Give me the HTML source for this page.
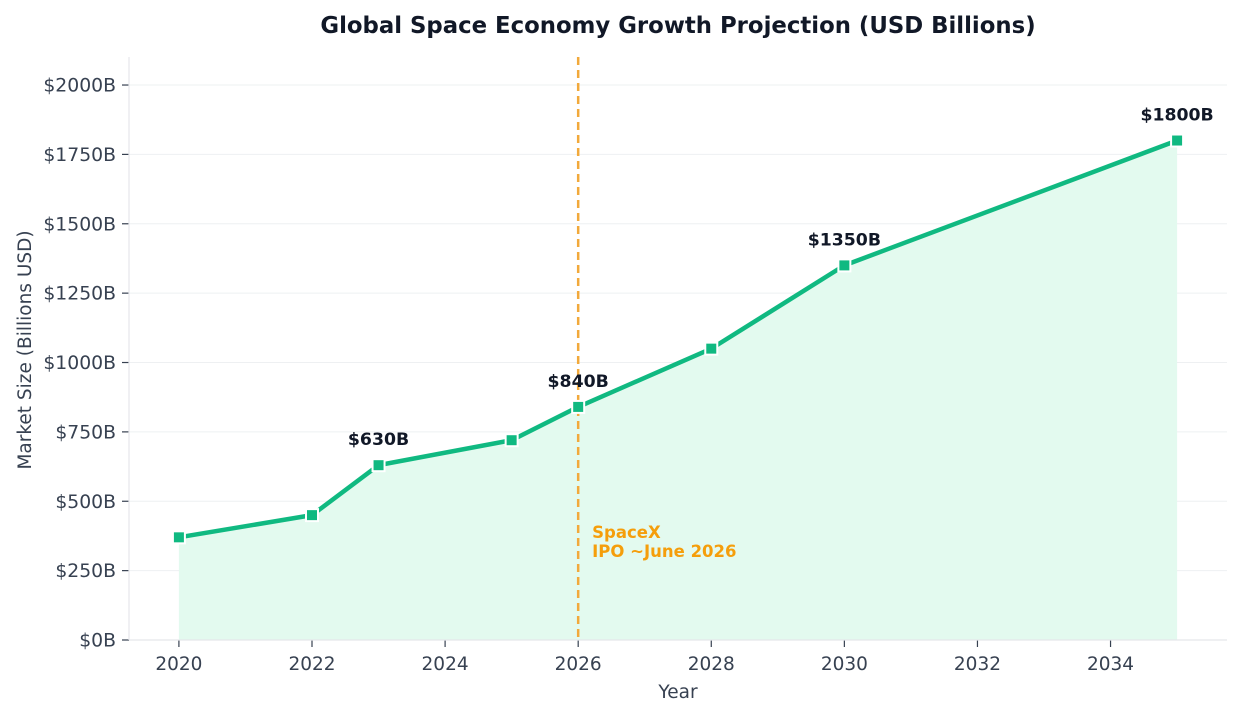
<!DOCTYPE html>
<html><head><meta charset="utf-8"><style>
body{margin:0;background:#fff;}
svg{display:block;font-family:"DejaVu Sans","Liberation Sans",sans-serif;}
</style></head><body>
<svg id="chart" width="1241" height="716">
<text x="678" y="33" text-anchor="middle" font-size="22.8" font-weight="bold" fill="#111827">Global Space Economy Growth Projection (USD Billions)</text>
<g id="grid"></g><g id="plot"></g><g id="axes"></g>
<text x="678" y="698" text-anchor="middle" font-size="18.5" fill="#374151">Year</text>
<text transform="translate(31,350) rotate(-90)" text-anchor="middle" font-size="18.5" fill="#374151">Market Size (Billions USD)</text>
</svg>
<script>
const years=[2020,2022,2023,2025,2026,2028,2030,2035];
const values=[370,450,630,720,840,1050,1350,1800];
const labeledYears=[2023,2026,2030,2035];
const xTicks=[2020,2022,2024,2026,2028,2030,2032,2034];
const yTicks=[0,250,500,750,1000,1250,1500,1750,2000];
const ipoYear=2026;
const NS='http://www.w3.org/2000/svg';
const L=129,R=1227,T=57,B=640;
const xMin=2019.25,xMax=2035.75,yMax=2101;
const X=v=>L+(v-xMin)/(xMax-xMin)*(R-L);
const Y=v=>B-v/yMax*(B-T);
function mk(tag,a,parent){const e=document.createElementNS(NS,tag);for(const k in a)e.setAttribute(k,a[k]);parent.appendChild(e);return e;}
const grid=document.getElementById('grid'),plot=document.getElementById('plot'),axes=document.getElementById('axes');
yTicks.forEach(t=>{
 const g=mk('line',{x1:L,x2:R,y1:Y(t),y2:Y(t),stroke:'#eef0f2','stroke-width':1},grid);
 
 
 mk('line',{x1:L-7,x2:L,y1:Y(t),y2:Y(t),stroke:'#374151','stroke-width':1.2},axes);
 const tx=mk('text',{x:L-13,y:Y(t)+6.5,'text-anchor':'end','font-size':18.8,fill:'#374151'},axes);
 tx.textContent='$'+t+'B';
 
 
});
xTicks.forEach(t=>{
 mk('line',{x1:X(t),x2:X(t),y1:B,y2:B+7,stroke:'#374151','stroke-width':1.2},axes);
 const tx=mk('text',{x:X(t),y:B+30,'text-anchor':'middle','font-size':18.5,fill:'#374151'},axes);
 tx.textContent=t;
 
 
});
const ls=mk('line',{x1:L,x2:L,y1:T,y2:B,stroke:'#e5e7eb','stroke-width':1.2},axes);


const bs=mk('line',{x1:L,x2:R,y1:B,y2:B,stroke:'#e5e7eb','stroke-width':1.2},axes);


let pts=years.map((y,i)=>X(y)+','+Y(values[i]));
const area=mk('polygon',{points:X(years[0])+','+B+' '+pts.join(' ')+' '+X(years[years.length-1])+','+B,fill:'#e3faef'},plot);


const vl=mk('line',{x1:X(ipoYear),x2:X(ipoYear),y1:T,y2:B,stroke:'#f2a93b','stroke-width':2.5,'stroke-dasharray':'8,5'},plot);


const ann=mk('text',{x:X(ipoYear)+14,y:538,'font-size':16.5,'font-weight':'bold',fill:'#f59e0b'},plot);
ann.innerHTML='<tspan x="'+(X(ipoYear)+14)+'">SpaceX</tspan><tspan x="'+(X(ipoYear)+14)+'" dy="19">IPO ~June 2026</tspan>';


const line=mk('polyline',{points:pts.join(' '),fill:'none',stroke:'#10b981','stroke-width':4.5,'stroke-linejoin':'round'},plot);


years.forEach((y,i)=>{
 const m=mk('rect',{x:X(y)-6,y:Y(values[i])-6,width:12,height:12,fill:'#10b981',stroke:'#fff','stroke-width':2},plot);
 
 
 if(labeledYears.includes(y)){
  const t=mk('text',{x:X(y),y:Y(values[i])-20,'text-anchor':'middle','font-size':17.3,'font-weight':'bold',fill:'#111827'},plot);
  t.textContent='$'+values[i]+'B';
  
  
 }
});
</script>
</body></html>
